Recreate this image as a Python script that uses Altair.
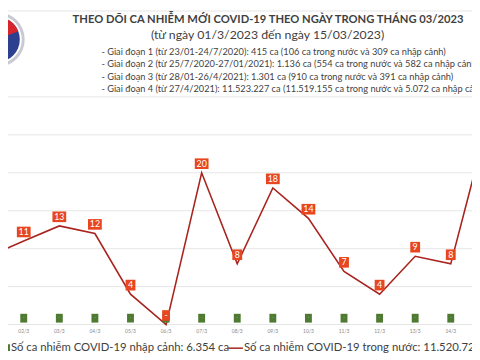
import math
import altair as alt
import pandas as pd

# ---- data ----
days = [1, 2, 3, 4, 5, 6, 7, 8, 9, 10, 11, 12, 13, 14, 15]
date_labels = ["01/3", "02/3", "03/3", "04/3", "05/3", "06/3", "07/3", "08/3",
               "09/3", "10/3", "11/3", "12/3", "13/3", "14/3", "15/3"]
domestic = [9, 11, 13, 12, 4, 0, 20, 8, 18, 14, 7, 4, 9, 8, 26]
imported = [0, 0, 0, 0, 0, 0, 0, 0, 0, 0, 0, 0, 0, 0, 0]
grid_values = [0, 5, 10, 15, 20, 25, 30]

title1 = "THEO DÕI CA NHIỄM MỚI COVID-19 THEO NGÀY TRONG THÁNG 03/2023"
title2 = "(từ ngày 01/3/2023 đến ngày 15/03/2023)"
bullets = [
    "- Giai đoạn 1 (từ 23/01-24/7/2020): 415 ca (106 ca trong nước và 309 ca nhập cảnh)",
    "- Giai đoạn 2 (từ 25/7/2020-27/01/2021): 1.136 ca (554 ca trong nước và 582 ca nhập cảnh)",
    "- Giai đoạn 3 (từ 28/01-26/4/2021): 1.301 ca (910 ca trong nước và 391 ca nhập cảnh)",
    "- Giai đoạn 4 (từ 27/4/2021): 11.523.227 ca (11.519.155 ca trong nước và 5.072 ca nhập cảnh)",
]
legend_imported = "Số ca nhiễm COVID-19 nhập cảnh: 6.354 ca"
legend_domestic = "Số ca nhiễm COVID-19 trong nước: 11.520.725 ca"

W, H = 472, 352
PX_DAY = 36.2
PX_UNIT = 7.72
FONT = "Lato"

df = pd.DataFrame({
    "day": days,
    "date": date_labels,
    "domestic": domestic,
    "imported": imported,
})
df["dlabel"] = [str(v) if v > 0 else "-" for v in domestic]
df["ilabel"] = [str(v) if v > 0 else "-" for v in imported]

xs = alt.Scale(domain=[2 - 16 / PX_DAY, 2 + (W - 16) / PX_DAY])
ys = alt.Scale(domain=[-(H - 319) / PX_UNIT, 319 / PX_UNIT])

base = alt.Chart(df)

grid = alt.Chart(pd.DataFrame({"g": grid_values})).mark_rule(
    color="#e6e6e6", strokeWidth=1
).encode(
    y=alt.Y("g:Q", scale=ys, axis=None),
    x=alt.value(0), x2=alt.value(W),
)

line = base.mark_line(color="#a8231d", strokeWidth=1.6, clip=True).encode(
    x=alt.X("day:Q", scale=xs, axis=None),
    y=alt.Y("domestic:Q", scale=ys, axis=None),
)

green_box = base.transform_calculate(
    xa=f"datum.day - 3.5/{PX_DAY}", xb=f"datum.day + 3.5/{PX_DAY}",
    ya=f"datum.imported + 0.26", yb=f"datum.imported + 1.42",
).mark_rect(color="#4f7a32", clip=True).encode(
    x=alt.X("xa:Q", scale=xs, axis=None), x2="xb:Q",
    y=alt.Y("ya:Q", scale=ys, axis=None), y2="yb:Q",
)
green_txt = base.transform_calculate(yt="datum.imported + 0.84").mark_text(
    color="#cfe0c0", fontSize=4, font=FONT, baseline="middle", clip=True
).encode(
    x=alt.X("day:Q", scale=xs, axis=None),
    y=alt.Y("yt:Q", scale=ys, axis=None),
    text="ilabel:N",
)

red_box = base.transform_calculate(
    hw=f"(length(datum.dlabel) > 1 ? 7 : (datum.dlabel == '-' ? 4 : 5)) / {PX_DAY}",
).transform_calculate(
    xa="datum.day - datum.hw", xb="datum.day + datum.hw",
    ya="datum.domestic + 0.5", yb="datum.domestic + 1.9",
).mark_rect(color="#e8461e", clip=True).encode(
    x=alt.X("xa:Q", scale=xs, axis=None), x2="xb:Q",
    y=alt.Y("ya:Q", scale=ys, axis=None), y2="yb:Q",
)
red_txt = base.transform_calculate(yt="datum.domestic + 1.2").mark_text(
    color="white", fontSize=9, font=FONT, baseline="middle", clip=True
).encode(
    x=alt.X("day:Q", scale=xs, axis=None),
    y=alt.Y("yt:Q", scale=ys, axis=None),
    text="dlabel:N",
)

date_txt = base.transform_calculate(yt="-0.8").mark_text(
    color="#8a8a8a", fontSize=5, font=FONT, baseline="middle", clip=True
).encode(
    x=alt.X("day:Q", scale=xs, axis=None),
    y=alt.Y("yt:Q", scale=ys, axis=None),
    text="date:N",
)

# ---- header ----
one = pd.DataFrame({"k": [0]})
t1 = alt.Chart(pd.DataFrame({"t": [title1]})).mark_text(
    font=FONT, fontSize=11.4, fontWeight="bold", color="#3f3f3f", baseline="middle"
).encode(x=alt.value(264.5), y=alt.value(9), text="t:N")
t2 = alt.Chart(pd.DataFrame({"t": [title2]})).mark_text(
    font=FONT, fontSize=12.5, color="#3f3f3f", baseline="middle"
).encode(x=alt.value(264), y=alt.value(25), text="t:N")
bl = alt.Chart(pd.DataFrame({"t": bullets, "i": [0, 1, 2, 3]})).transform_calculate(
    yy="42 + datum.i * 12.4"
).mark_text(
    font=FONT, fontSize=9.4, color="#3f3f3f", baseline="middle", align="left"
).encode(x=alt.value(95), y=alt.Y("yy:Q", scale=None), text="t:N")
top_rule = alt.Chart(one).mark_rule(color="#e6e6e6").encode(
    x=alt.value(0), x2=alt.value(W), y=alt.value(0)
)

# ---- logo ----
cx, cy = -11, 29
ring = alt.Chart(one).mark_arc(radius=28, radius2=25, theta=0, theta2=2 * math.pi,
                               color="#c9c9d4").encode(x=alt.value(cx), y=alt.value(cy))
blue = alt.Chart(one).mark_arc(radius=23, theta=0, theta2=2 * math.pi,
                               color="#2d3f8f").encode(x=alt.value(cx), y=alt.value(cy))
red = alt.Chart(one).mark_arc(radius=23, theta=0, theta2=1.2,
                              color="#d7262b").encode(x=alt.value(cx), y=alt.value(cy))

# ---- legend ----
leg_sq = alt.Chart(one).mark_rect(color="#4f7a32").encode(
    x=alt.value(-8), x2=alt.value(2), y=alt.value(339), y2=alt.value(346)
)
leg_t1 = alt.Chart(pd.DataFrame({"t": [legend_imported]})).mark_text(
    font=FONT, fontSize=11.5, color="#404040", baseline="middle", align="left"
).encode(x=alt.value(3), y=alt.value(343), text="t:N")
leg_ln = alt.Chart(one).mark_rule(color="#a8231d", strokeWidth=1.5).encode(
    x=alt.value(224), x2=alt.value(239), y=alt.value(343)
)
leg_t2 = alt.Chart(pd.DataFrame({"t": [legend_domestic]})).mark_text(
    font=FONT, fontSize=11.5, color="#404040", baseline="middle", align="left"
).encode(x=alt.value(240), y=alt.value(343), text="t:N")

chart = alt.layer(
    grid, top_rule, line, green_box, green_txt, red_box, red_txt, date_txt,
    ring, blue, red, t1, t2, bl, leg_sq, leg_t1, leg_ln, leg_t2,
).properties(
    width=W, height=H, padding=0, autosize=alt.AutoSizeParams(type="none"),
    background="white",
).configure_view(strokeWidth=0)

chart.save("out.html", embed_options={"renderer": "svg", "actions": False})
